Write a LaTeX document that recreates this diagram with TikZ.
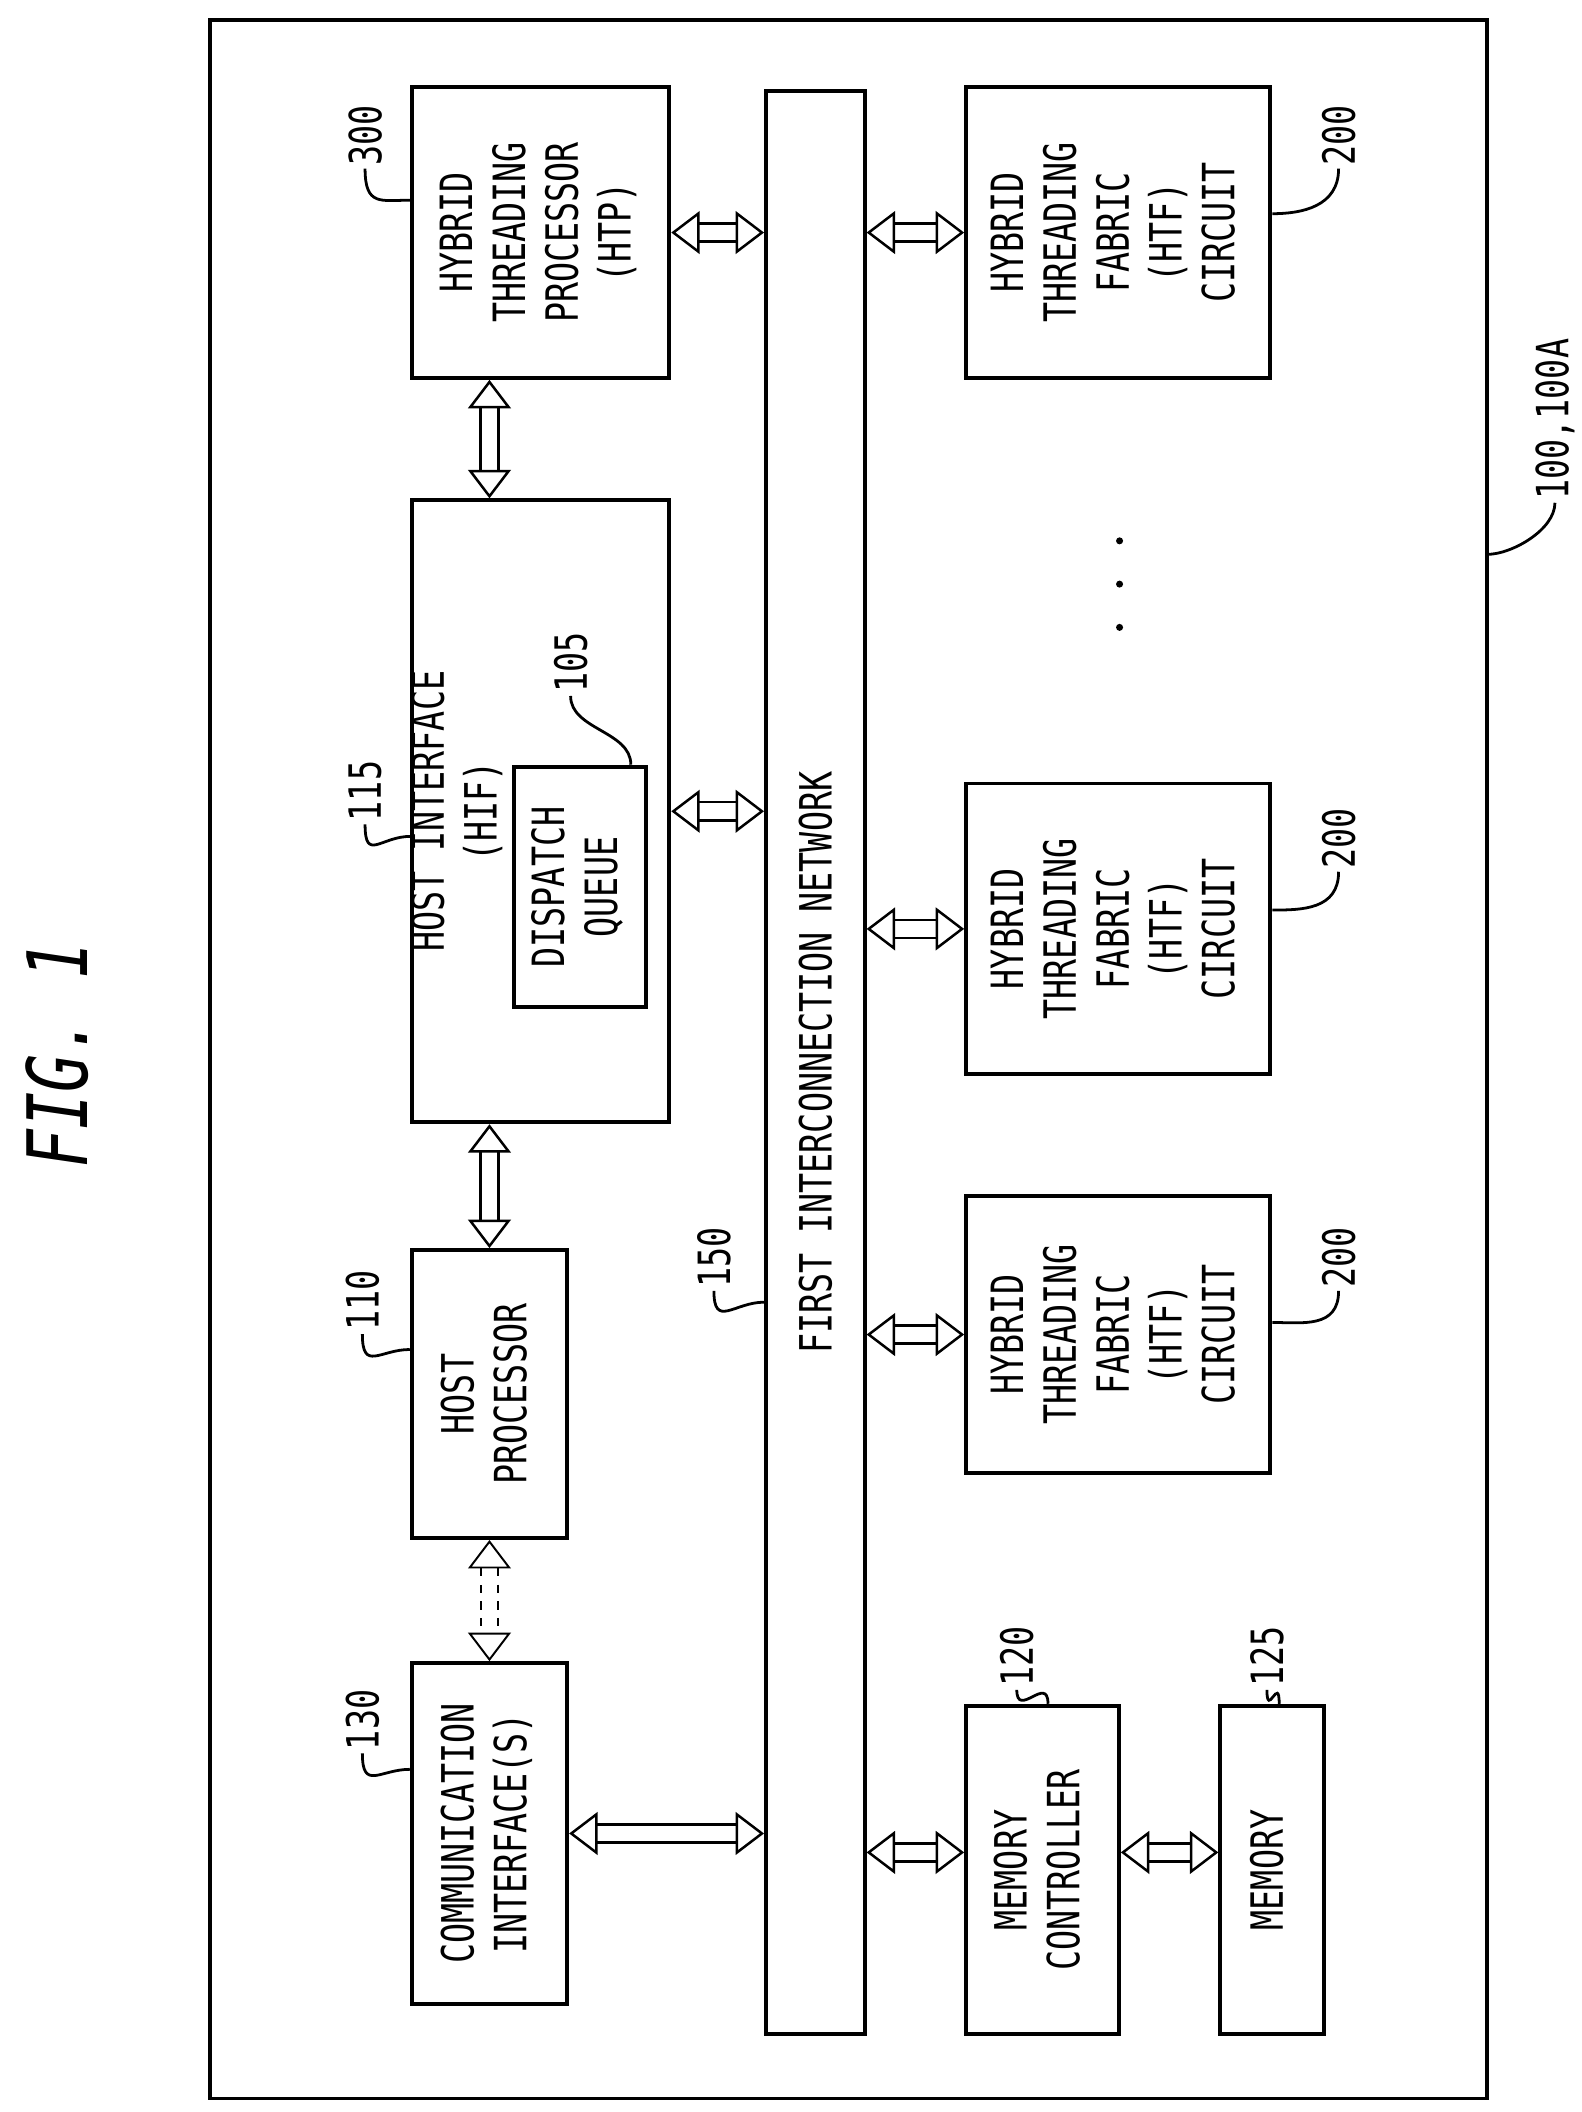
\documentclass[tikz,border=0pt]{standalone}
\usepackage{fontspec}
\setmonofont[FakeStretch=0.75]{DejaVu Sans Mono}
\usepackage{graphicx}
\usetikzlibrary{arrows.meta, calc}
\newcommand{\vtext}[1]{\rotatebox{90}{\begin{tabular}{@{}c@{}}#1\end{tabular}}}
\def\pxu{0.0171cm}
\begin{document}
\begin{tikzpicture}[x=0.0171cm, y=-0.0171cm,
	box/.style={draw, line width=1.4pt, inner sep=0pt, font=\ttfamily\fontsize{16}{19}\selectfont},
	num/.style={inner sep=1pt, font=\ttfamily\fontsize{16}{19}\selectfont},
	lead/.style={line width=1pt},
	bus/.style={double, double distance=2mm, line width=0.9pt,
		{Triangle[open, length=3.6mm, width=5.4mm]}-{Triangle[open, length=3.6mm, width=5.4mm]}}]
	\useasboundingbox (0,0) rectangle (1170,1562);
	\draw[line width=1.4pt] (155,15) rectangle (1100,1552);
	\node[num, font=\ttfamily\itshape\fontsize{30}{34}\selectfont] (fig) at (42,780) {\rotatebox{90}{FIG. 1}};
	% left column
	\node[box, minimum width=190*\pxu, minimum height=215*\pxu] (htp) at (400,172) {\vtext{HYBRID\\THREADING\\PROCESSOR\\(HTP)}};
	\node[box, minimum width=190*\pxu, minimum height=460*\pxu] (hif) at (400,600) {};
	\node[num] (hift) at (340,600) {\vtext{HOST INTERFACE\\(HIF)}};
	\node[box, minimum width=98*\pxu, minimum height=178*\pxu] (dq) at (429,656) {\vtext{DISPATCH\\QUEUE}};
	\node[box, minimum width=115*\pxu, minimum height=213*\pxu] (hp) at (362,1031) {\vtext{HOST\\PROCESSOR}};
	\node[box, minimum width=115*\pxu, minimum height=252*\pxu] (comm) at (362,1356) {\vtext{COMMUNICATION\\INTERFACE(S)}};
	% network
	\node[box, minimum width=73*\pxu, minimum height=1437*\pxu] (net) at (603,786) {\rotatebox{90}{FIRST INTERCONNECTION NETWORK}};
	% right column
	\node[box, minimum width=225*\pxu, minimum height=215*\pxu] (htfa) at (827,172) {\vtext{HYBRID\\THREADING\\FABRIC\\(HTF)\\CIRCUIT}};
	\node[box, minimum width=225*\pxu, minimum height=215*\pxu] (htfb) at (827,687) {\vtext{HYBRID\\THREADING\\FABRIC\\(HTF)\\CIRCUIT}};
	\node[box, minimum width=225*\pxu, minimum height=205*\pxu] (htfc) at (827,987) {\vtext{HYBRID\\THREADING\\FABRIC\\(HTF)\\CIRCUIT}};
	\node[box, minimum width=113*\pxu, minimum height=243*\pxu] (mc) at (771,1383) {\vtext{MEMORY\\CONTROLLER}};
	\node[box, minimum width=77*\pxu, minimum height=243*\pxu] (mem) at (941,1383) {\vtext{MEMORY}};
	\foreach \y in {400,432,464} \fill (828,\y) circle (2.6);
	% connectors
	\draw[bus] (htp.east) -- (net.west |- htp.east);
	\draw[bus] (htp.south -| hp.north) -- (hif.north -| hp.north);
	\draw[bus] (hif.east) -- (net.west |- hif.east);
	\draw[bus] (hif.south -| hp.north) -- (hp.north);
	\draw[bus, dashed, line width=0.7pt] (hp.south) -- (comm.north);
	\draw[bus] (comm.east) -- (net.west |- comm.east);
	\draw[bus] (net.east |- htfa.west) -- (htfa.west);
	\draw[bus] (net.east |- htfb.west) -- (htfb.west);
	\draw[bus] (net.east |- htfc.west) -- (htfc.west);
	\draw[bus] (net.east |- 0,1370) -- (mc.west |- 0,1370);
	\draw[bus] (mc.east |- 0,1370) -- (mem.west |- 0,1370);
	% reference numerals
	\node[num] (n300) at (270,100) {\rotatebox{90}{300}};
	\node[num] (n115) at (270,585) {\rotatebox{90}{115}};
	\node[num] (n105) at (422,490) {\rotatebox{90}{105}};
	\node[num] (n110) at (268,962) {\rotatebox{90}{110}};
	\node[num] (n130) at (268,1272) {\rotatebox{90}{130}};
	\node[num] (n150) at (528,930) {\rotatebox{90}{150}};
	\node[num] (n200a) at (990,100) {\rotatebox{90}{200}};
	\node[num] (n200b) at (990,620) {\rotatebox{90}{200}};
	\node[num] (n200c) at (990,930) {\rotatebox{90}{200}};
	\node[num] (n120) at (752,1225) {\rotatebox{90}{120}};
	\node[num] (n125) at (937,1225) {\rotatebox{90}{125}};
	\node[num] (n100) at (1150,310) {\rotatebox{90}{100,100A}};
	\draw[lead] (n300.south) .. controls +(0,28) and +(-22,0) .. ($(htp.north west)+(0,85)$);
	\draw[lead] (n115.south) .. controls +(0,28) and +(-22,0) .. ($(hif.north west)+(0,250)$);
	\draw[lead] (n105.south) .. controls +(0,25) and +(0,-25) .. ($(dq.north west)+(88,0)$);
	\draw[lead] (n110.south) .. controls +(0,28) and +(-22,0) .. ($(hp.north west)+(0,75)$);
	\draw[lead] (n130.south) .. controls +(0,28) and +(-22,0) .. ($(comm.north west)+(0,80)$);
	\draw[lead] (n150.south) .. controls +(0,28) and +(-22,0) .. ($(net.north west)+(0,897)$);
	\draw[lead] (n200a.south) .. controls +(0,28) and +(22,0) .. ($(htfa.north east)+(0,95)$);
	\draw[lead] (n200b.south) .. controls +(0,28) and +(22,0) .. ($(htfb.north east)+(0,95)$);
	\draw[lead] (n200c.south) .. controls +(0,28) and +(22,0) .. ($(htfc.north east)+(0,95)$);
	\draw[lead] (n120.south) .. controls +(0,22) and +(0,-22) .. ($(mc.north west)+(62,0)$);
	\draw[lead] (n125.south) .. controls +(0,22) and +(0,-22) .. ($(mem.north west)+(45,0)$);
	\draw[lead] (n100.south) .. controls +(0,20) and +(18,0) .. (1100,410);
\end{tikzpicture}
\end{document}
